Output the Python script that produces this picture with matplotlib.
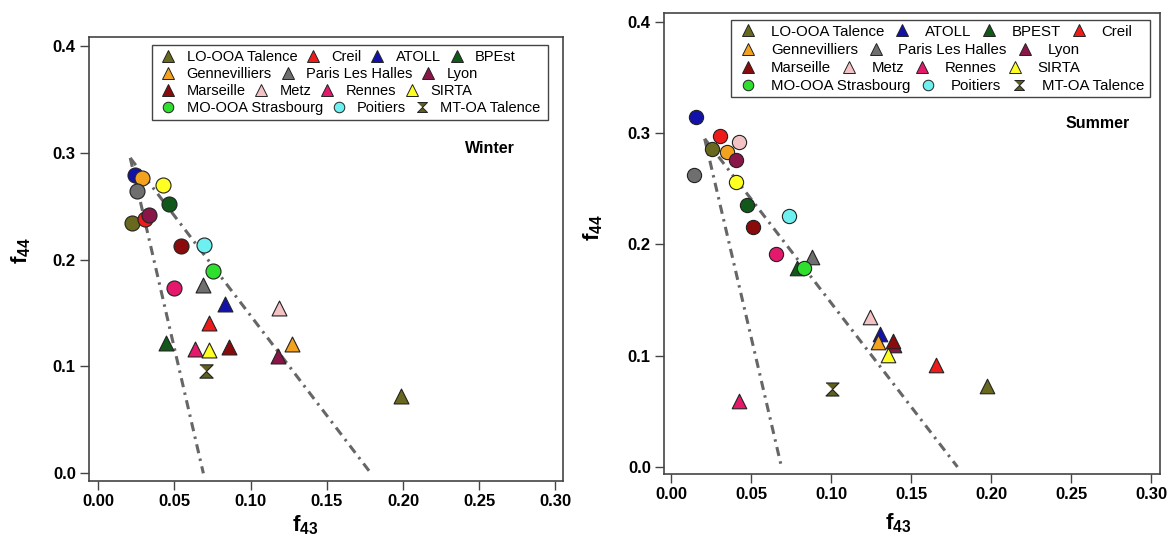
import matplotlib.pyplot as plt
import matplotlib.patches as mpatches
from matplotlib.lines import Line2D
from matplotlib.legend import Legend
import numpy as np

plt.rcParams['font.family'] = ['Liberation Sans', 'DejaVu Sans']
plt.rcParams['mathtext.fontset'] = 'custom'
plt.rcParams['mathtext.rm'] = 'Liberation Sans'
plt.rcParams['mathtext.bf'] = 'Liberation Sans:bold'

nan = np.nan

# Sites (same order for every array below)
sites = ['Talence', 'Creil', 'ATOLL', 'BPEst', 'Gennevilliers', 'Paris Les Halles',
         'Lyon', 'Marseille', 'Metz', 'Rennes', 'SIRTA', 'Strasbourg', 'Poitiers']
site_colors = ['#68681f', '#ee1b1b', '#1212aa', '#11581a', '#f3a21f', '#6f6f6f',
               '#8a1548', '#8a0b0b', '#f2c2c4', '#e5196c', '#ffff22', '#2edf2e', '#6ef0f0']

# Winter: circles (MO-OOA) and triangles (LO-OOA)
winter_circle_f43 = [0.022, 0.0306, 0.024, 0.0466, 0.029, 0.0252, 0.0333, 0.0543, nan, 0.0497, 0.0422, 0.0755, 0.0694]
winter_circle_f44 = [0.234, 0.238, 0.279, 0.2516, 0.276, 0.264, 0.2416, 0.2126, nan, 0.1736, 0.270, 0.1895, 0.2133]
winter_tri_f43 = [0.199, 0.0724, 0.0831, 0.0442, 0.1273, 0.0685, 0.1177, 0.086, 0.1186, 0.0635, 0.0728, nan, nan]
winter_tri_f44 = [0.0726, 0.141, 0.158, 0.1216, 0.121, 0.176, 0.110, 0.118, 0.155, 0.116, 0.1153, nan, nan]

# Summer
summer_circle_f43 = [0.0254, 0.0306, 0.0154, 0.0477, 0.0348, 0.0146, 0.0404, 0.0515, 0.0423, 0.0656, 0.0404, 0.0831, 0.0738]
summer_circle_f44 = [0.2855, 0.2975, 0.3149, 0.2355, 0.2834, 0.2625, 0.276, 0.2154, 0.2924, 0.1915, 0.2565, 0.1786, 0.2256]
summer_tri_f43 = [0.1973, 0.1654, 0.1306, 0.0786, 0.1296, 0.0883, 0.1396, 0.139, 0.1244, 0.0425, 0.1358, nan, nan]
summer_tri_f44 = [0.0728, 0.0917, 0.1195, 0.1786, 0.1126, 0.189, 0.1097, 0.1135, 0.1345, 0.0593, 0.1007, nan, nan]

# MT-OA Talence (winter, summer)
mtoa_f43 = [0.0707, 0.1004]
mtoa_f44 = [0.096, 0.0698]
mtoa_color = '#5f5f22'

# triangle guide lines
guide_left_f43 = [0.021, 0.069]
guide_left_f44 = [0.295, 0.0]
guide_right_f43 = [0.021, 0.179]
guide_right_f44 = [0.295, 0.0]

# legend rows: (label, marker, site index)
winter_rows = [
    [('LO-OOA Talence', '^', 0), ('Creil', '^', 1), ('ATOLL', '^', 2), ('BPEst', '^', 3)],
    [('Gennevilliers', '^', 4), ('Paris Les Halles', '^', 5), ('Lyon', '^', 6)],
    [('Marseille', '^', 7), ('Metz', '^', 8), ('Rennes', '^', 9), ('SIRTA', '^', 10)],
    [('MO-OOA Strasbourg', 'o', 11), ('Poitiers', 'o', 12), ('MT-OA Talence', 'hg', None)],
]
summer_rows = [
    [('LO-OOA Talence', '^', 0), ('ATOLL', '^', 2), ('BPEST', '^', 3), ('Creil', '^', 1)],
    [('Gennevilliers', '^', 4), ('Paris Les Halles', '^', 5), ('Lyon', '^', 6)],
    [('Marseille', '^', 7), ('Metz', '^', 8), ('Rennes', '^', 9), ('SIRTA', '^', 10)],
    [('MO-OOA Strasbourg', 'o', 11), ('Poitiers', 'o', 12), ('MT-OA Talence', 'hg', None)],
]

hourglass = [(-1, 1), (1, 1), (0, 0), (1, -1), (-1, -1), (0, 0)]
edge = '#222222'

fig = plt.figure(figsize=(11.72, 5.38), dpi=100)
ax_w = fig.add_axes([0.0759, 0.1059, 0.4044, 0.8253])
ax_s = fig.add_axes([0.5666, 0.1190, 0.4232, 0.8569])


def draw_panel(ax, c43, c44, t43, t44, k, csize, tsize):
    ax.plot(guide_left_f43, guide_left_f44, color='#666666', lw=2.2,
            dashes=(3, 1.8, 0.8, 1.8), zorder=1)
    ax.plot(guide_right_f43, guide_right_f44, color='#666666', lw=2.2,
            dashes=(3, 1.8, 0.8, 1.8), zorder=1)
    for i in range(len(sites)):
        ax.scatter(t43[i], t44[i], marker='^', s=tsize, color=site_colors[i],
                   edgecolors=edge, linewidths=0.8, zorder=3)
    for i in range(len(sites)):
        ax.scatter(c43[i], c44[i], marker='o', s=csize, color=site_colors[i],
                   edgecolors=edge, linewidths=0.8, zorder=3)
    ax.scatter(mtoa_f43[k], mtoa_f44[k], marker=hourglass, s=tsize * 0.8,
               color=mtoa_color, edgecolors=edge, linewidths=0.8, zorder=3)


draw_panel(ax_w, winter_circle_f43, winter_circle_f44, winter_tri_f43, winter_tri_f44, 0, 117, 115)
draw_panel(ax_s, summer_circle_f43, summer_circle_f44, summer_tri_f43, summer_tri_f44, 1, 105, 110)

ax_w.set_xlim(-0.0061, 0.305)
ax_w.set_ylim(-0.0072, 0.4081)
ax_s.set_xlim(-0.0044, 0.3056)
ax_s.set_ylim(-0.0063, 0.4081)

for ax in (ax_w, ax_s):
    ax.set_xticks([0, 0.05, 0.10, 0.15, 0.20, 0.25, 0.30])
    ax.set_yticks([0, 0.1, 0.2, 0.3, 0.4])
    ax.xaxis.set_major_formatter(plt.FormatStrFormatter('%.2f'))
    ax.yaxis.set_major_formatter(plt.FormatStrFormatter('%.1f'))
    ax.tick_params(direction='out', length=6.5, width=1, labelsize=12, pad=3, color='#444444')
    for lab in ax.get_xticklabels() + ax.get_yticklabels():
        lab.set_fontweight('bold')
    for sp in ax.spines.values():
        sp.set_color('#444444')
        sp.set_linewidth(1.2)
    ax.set_xlabel(r'f$_{\mathbf{43}}$', fontsize=16, fontweight='bold')
    ax.set_ylabel(r'f$_{\mathbf{44}}$', fontsize=16, fontweight='bold')

ax_w.xaxis.set_label_coords(0.456, -0.074)
ax_w.yaxis.set_label_coords(-0.118, 0.52)
ax_s.xaxis.set_label_coords(0.472, -0.082)
ax_s.yaxis.set_label_coords(-0.119, 0.534)

ax_w.text(0.846, 0.75, 'Winter', transform=ax_w.transAxes, fontsize=11.5,
          fontweight='bold', ha='center', va='center')
ax_s.text(0.875, 0.761, 'Summer', transform=ax_s.transAxes, fontsize=11.5,
          fontweight='bold', ha='center', va='center')


def make_handle(mk, idx, ms):
    if mk == 'hg':
        return Line2D([], [], ls='none', marker=hourglass, ms=ms * 0.9, mfc=mtoa_color,
                      mec=edge, mew=0.7)
    size = ms * 0.95 if mk == 'o' else ms
    return Line2D([], [], ls='none', marker=mk, ms=size, mfc=site_colors[idx], mec=edge, mew=0.7)


def row_legends(ax, rows, x0, ys, fs, tpad, cspace, box):
    for row, y in zip(rows, ys):
        handles = [make_handle(mk, idx, 8) for _, mk, idx in row]
        labels = [lab for lab, _, _ in row]
        leg = Legend(ax, handles, labels, ncol=len(row), loc='center left',
                     bbox_to_anchor=(x0, y), frameon=False, fontsize=fs,
                     handlelength=1.0, handletextpad=tpad, columnspacing=cspace,
                     borderpad=0, borderaxespad=0)
        ax.add_artist(leg)
    rect = mpatches.Rectangle((box[0], box[1]), box[2] - box[0], box[3] - box[1],
                              transform=ax.transAxes, fill=False, edgecolor='#444444',
                              lw=1.0, zorder=5)
    ax.add_patch(rect)


row_legends(ax_w, winter_rows, 0.152, [0.9556, 0.9167, 0.8784, 0.8408], 10.5, 0.76, 0.58,
            (0.132, 0.813, 0.969, 0.982))
row_legends(ax_s, summer_rows, 0.155, [0.9594, 0.9197, 0.880, 0.8416], 10.8, 1.0, 0.7,
            (0.135, 0.818, 0.980, 0.985))

fig.savefig('out.png', dpi=100)
